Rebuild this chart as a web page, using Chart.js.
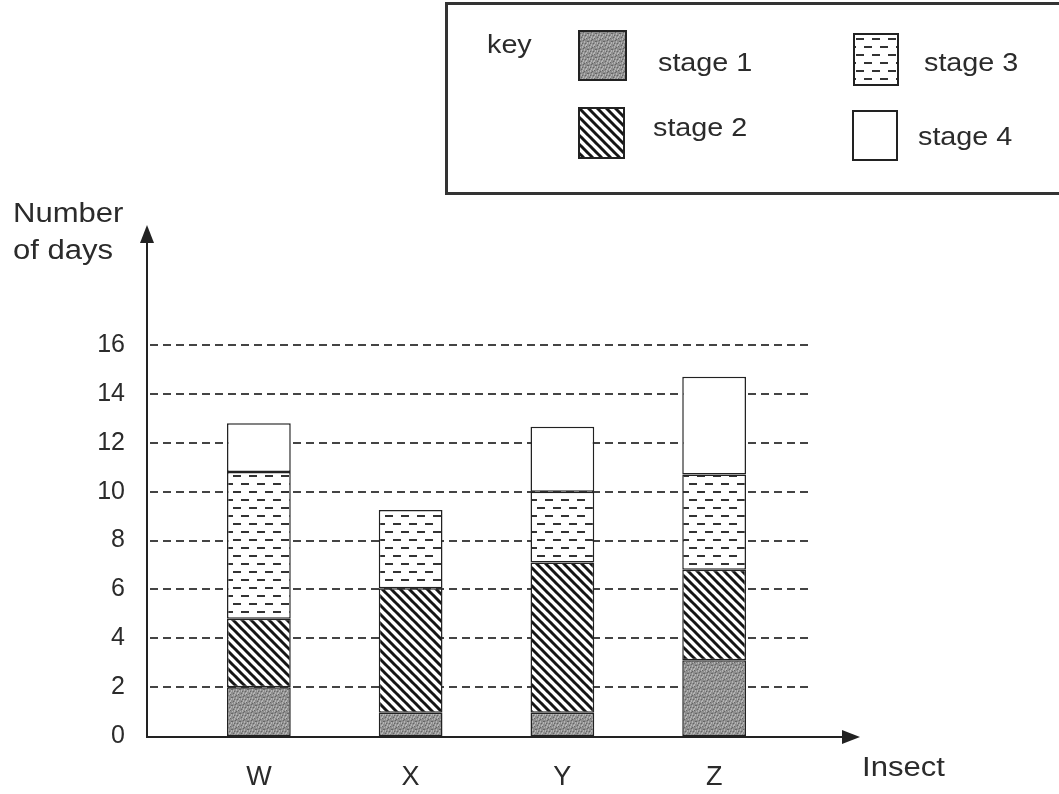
<!DOCTYPE html>
<html>
<head>
<meta charset="utf-8">
<script src="https://cdn.jsdelivr.net/npm/chart.js@4.4.1/dist/chart.umd.min.js"></script>
<style>
  body { margin: 0; background: #fff; }
  #wrap { position: relative; width: 1059px; height: 794px; overflow: hidden;
          font-family: 'Liberation Sans', Arial, sans-serif; color: #2b2b2b; }
  #chart { position: absolute; left: 0; top: 0; }
  .txt { position: absolute; line-height: 1; white-space: nowrap;
         transform: scaleX(1.15); transform-origin: 0 0; }
  .key-box { position: absolute; left: 445px; top: 2px; width: 700px; height: 187px;
             border: 3px solid #333; }
  .sw { position: absolute; border: 2px solid #222; box-sizing: border-box; }
</style>
</head>
<body>
<div id="wrap">
  <canvas id="chart" width="1059" height="794"></canvas>

  <div class="key-box"></div>
  <div class="txt" style="left:487px; top:32px; font-size:25px;">key</div>
  <canvas class="sw" id="sw1" width="45" height="47" style="left:578px; top:30px;"></canvas>
  <div class="txt" style="left:658px; top:50px; font-size:25px;">stage 1</div>
  <canvas class="sw" id="sw2" width="43" height="48" style="left:578px; top:107px;"></canvas>
  <div class="txt" style="left:653px; top:115px; font-size:25px;">stage 2</div>
  <canvas class="sw" id="sw3" width="42" height="49" style="left:853px; top:33px;"></canvas>
  <div class="txt" style="left:924px; top:50px; font-size:25px;">stage 3</div>
  <canvas class="sw" id="sw4" width="42" height="47" style="left:852px; top:110px;"></canvas>
  <div class="txt" style="left:918px; top:124px; font-size:25px;">stage 4</div>

  <div class="txt" style="left:13px; top:200px; font-size:27px;">Number</div>
  <div class="txt" style="left:13px; top:237px; font-size:27px;">of days</div>
  <div class="txt" style="left:862px; top:754px; font-size:27px;">Insect</div>
</div>

<script>
// data (days spent in each stage)
const insects = ['W', 'X', 'Y', 'Z'];
const stage1 = [2, 0.95, 0.95, 3.1];
const stage2 = [2.8, 5.1, 6.15, 3.7];
const stage3 = [6, 3.2, 2.9, 3.9];
const stage4 = [2, null, 2.65, 4];
const stageNames = ['stage 1', 'stage 2', 'stage 3', 'stage 4'];

const ink = '#222';

// fill patterns for the four stages
function makePattern(kind) {
  const c = document.createElement('canvas');
  const g = c.getContext('2d');
  if (kind === 1) {
    c.width = 8; c.height = 8;
    g.fillStyle = '#8e8e8e';
    g.fillRect(0, 0, 8, 8);
    const dark = [[0,1],[3,0],[5,3],[1,5],[6,6],[2,3],[7,1],[4,7]];
    const light = [[1,2],[4,1],[6,4],[2,6],[0,7],[5,5],[3,4],[7,2]];
    g.fillStyle = '#666';
    dark.forEach(p => g.fillRect(p[0], p[1], 1, 1));
    g.fillStyle = '#b4b4b4';
    light.forEach(p => g.fillRect(p[0], p[1], 1, 2));
  } else if (kind === 2) {
    c.width = 9; c.height = 9;
    g.fillStyle = '#fff';
    g.fillRect(0, 0, 9, 9);
    g.strokeStyle = '#151515';
    g.lineWidth = 3;
    for (let k = -1; k <= 1; k++) {
      g.beginPath();
      g.moveTo(k * 9 - 1, -1);
      g.lineTo(k * 9 + 10, 10);
      g.stroke();
    }
  } else if (kind === 3) {
    c.width = 16; c.height = 16;
    g.fillStyle = '#fff';
    g.fillRect(0, 0, 16, 16);
    g.fillStyle = '#333';
    g.fillRect(1, 3, 8, 2);
    g.fillRect(9, 11, 7, 2);
    g.fillRect(0, 11, 1, 2);
  } else {
    c.width = 4; c.height = 4;
    g.fillStyle = '#fff';
    g.fillRect(0, 0, 4, 4);
  }
  return g.createPattern(c, 'repeat');
}

const fills = [1, 2, 3, 4].map(makePattern);

// key swatches
['sw1', 'sw2', 'sw3', 'sw4'].forEach((id, i) => {
  const el = document.getElementById(id);
  const g = el.getContext('2d');
  g.fillStyle = fills[i];
  g.fillRect(0, 0, el.width, el.height);
});

// dashed guide lines behind the bars, axes with arrows on top
const axesPlugin = {
  id: 'axesPlugin',
  beforeDatasetsDraw(chart) {
    const ctx = chart.ctx;
    const y = chart.scales.y;
    ctx.save();
    ctx.strokeStyle = '#444';
    ctx.lineWidth = 2;
    ctx.setLineDash([8, 5]);
    y.ticks.forEach(t => {
      if (t.value <= 0) return;
      const py = Math.round(y.getPixelForValue(t.value));
      ctx.beginPath();
      ctx.moveTo(150, py);
      ctx.lineTo(808, py);
      ctx.stroke();
    });
    ctx.restore();
  },
  afterDatasetsDraw(chart) {
    const ctx = chart.ctx;
    const base = Math.round(chart.scales.y.getPixelForValue(0)) + 1;
    const ax = 147;
    ctx.save();
    ctx.strokeStyle = ink;
    ctx.fillStyle = ink;
    ctx.lineWidth = 2;
    ctx.beginPath();
    ctx.moveTo(ax, base);
    ctx.lineTo(ax, 238);
    ctx.moveTo(ax - 1, base);
    ctx.lineTo(846, base);
    ctx.stroke();
    ctx.beginPath();
    ctx.moveTo(ax, 225);
    ctx.lineTo(ax - 7, 243);
    ctx.lineTo(ax + 7, 243);
    ctx.closePath();
    ctx.fill();
    ctx.beginPath();
    ctx.moveTo(860, base);
    ctx.lineTo(842, base - 7);
    ctx.lineTo(842, base + 7);
    ctx.closePath();
    ctx.fill();
    ctx.restore();
  }
};

const stages = [stage1, stage2, stage3, stage4];

new Chart(document.getElementById('chart'), {
  type: 'bar',
  data: {
    labels: insects,
    datasets: stages.map((vals, i) => ({
      label: stageNames[i],
      data: vals,
      backgroundColor: fills[i],
      borderColor: ink,
      borderWidth: 1.5,
      borderSkipped: false,
      barPercentage: 0.42,
      categoryPercentage: 1
    }))
  },
  options: {
    responsive: false,
    animation: false,
    layout: { padding: { left: 20, top: 345, right: 269, bottom: 0 } },
    plugins: { legend: { display: false }, tooltip: { enabled: false } },
    scales: {
      x: {
        stacked: true,
        grid: { display: false, drawTicks: false, tickLength: 0 },
        border: { display: false },
        ticks: {
          padding: 25,
          color: '#2b2b2b',
          font: { family: "'Liberation Sans', Arial, sans-serif", size: 27 }
        },
        afterFit(scale) { scale.height = 58; }
      },
      y: {
        stacked: true,
        min: 0,
        max: 16,
        grid: { display: false, drawTicks: false, tickLength: 0 },
        border: { display: false },
        ticks: {
          stepSize: 2,
          padding: 58,
          color: '#2b2b2b',
          font: { family: "'Liberation Sans', Arial, sans-serif", size: 25 }
        },
        afterFit(scale) {
          scale.width = 163;
          // the wide label gap should not push the plot area up
          scale.paddingTop = 0;
          scale.paddingBottom = 0;
        }
      }
    }
  },
  plugins: [axesPlugin]
});
</script>
</body>
</html>
